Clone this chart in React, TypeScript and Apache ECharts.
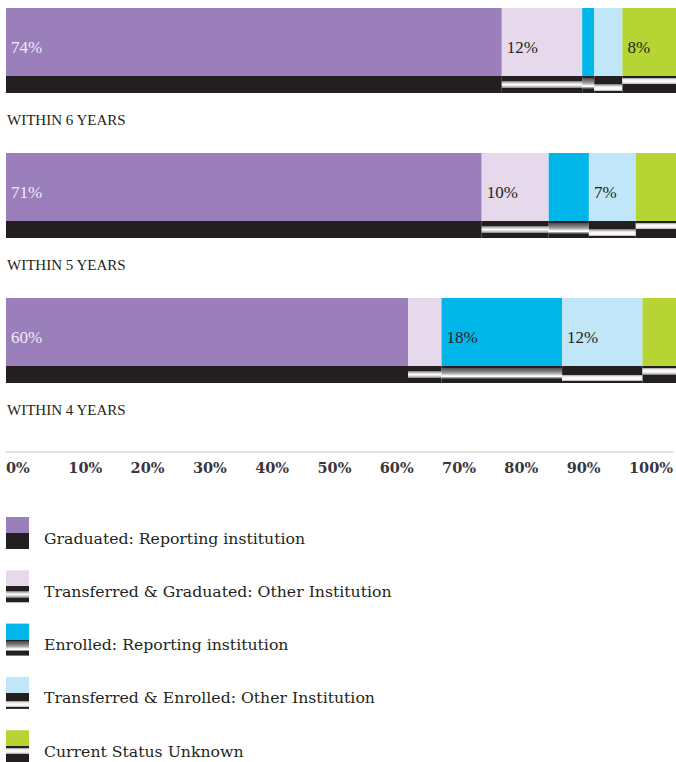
import React, { useEffect, useRef } from "react";
import * as echarts from "echarts";

const groups = ["WITHIN 6 YEARS", "WITHIN 5 YEARS", "WITHIN 4 YEARS"];
const seriesNames = [
  "Graduated: Reporting institution",
  "Transferred & Graduated: Other Institution",
  "Enrolled: Reporting institution",
  "Transferred & Enrolled: Other Institution",
  "Current Status Unknown",
];
const graduatedReporting = [74, 71, 60];
const transferredGraduated = [12, 10, 5];
const enrolledReporting = [1.8, 6, 18];
const transferredEnrolled = [4.2, 7, 12];
const statusUnknown = [8, 6, 5];
const axisTicks = [0, 10, 20, 30, 40, 50, 60, 70, 80, 90, 100];

const values = [graduatedReporting, transferredGraduated, enrolledReporting, transferredEnrolled, statusUnknown];
const colors = ["#9b7fba", "#e6d9ec", "#00b6e9", "#c1e6f7", "#b6d433"];
const labelColors = ["#f1ebf6", "#231f20", "#231f20", "#231f20", "#231f20"];

const D = "#231f20";
const stripPatterns: [number, string][][] = [
  [[0, D], [1, D]],
  [[0, D], [0.28, D], [0.28, "#6a6a6a"], [0.4, "#c8c8c8"], [0.5, "#ffffff"], [0.6, "#d0d0d0"], [0.72, "#777777"], [0.72, D], [1, D]],
  [[0, D], [0.1, D], [0.1, "#4a4a4a"], [0.3, "#7a7a7a"], [0.45, "#b0b0b0"], [0.55, "#f0f0f0"], [0.62, "#ffffff"], [0.68, "#9a9a9a"], [0.74, "#555555"], [0.74, D], [1, D]],
  [[0, D], [0.5, D], [0.5, "#8a8a8a"], [0.6, "#e0e0e0"], [0.7, "#ffffff"], [0.82, "#f0f0f0"], [0.9, "#8a8a8a"], [0.9, D], [1, D]],
  [[0, D], [0.1, D], [0.1, "#909090"], [0.2, "#e8e8e8"], [0.3, "#ffffff"], [0.42, "#e0e0e0"], [0.5, "#8a8a8a"], [0.5, D], [1, D]],
];

function vGrad(stops: [number, string][]) {
  return new echarts.graphic.LinearGradient(
    0, 0, 0, 1,
    stops.map(([offset, color]) => ({ offset, color }))
  );
}

function legendGrad(i: number) {
  const stops: [number, string][] = [[0, colors[i]], [0.5, colors[i]]];
  stripPatterns[i].forEach(([o, c]) => stops.push([0.5 + 0.5 * o, c]));
  return vGrad(stops);
}

export default function App() {
  const ref = useRef<HTMLDivElement>(null);
  useEffect(() => {
    if (!ref.current) return;
    const chart = echarts.init(ref.current, null, { renderer: "svg" });
    const serif = "'Liberation Serif', 'Times New Roman', serif";
    const topSeries = seriesNames.map((name, i) => ({
      name,
      type: "bar",
      stack: "top",
      barWidth: 68,
      barGap: 0,
      data: values[i],
      itemStyle: { color: colors[i] },
      label: {
        show: true,
        position: "insideLeft",
        distance: 5,
        offset: [0, 5],
        fontFamily: serif,
        fontSize: 17,
        color: labelColors[i],
        formatter: (p: any) => (p.value >= 7 ? `${Math.round(p.value)}%` : ""),
      },
    }));
    const stripSeries = seriesNames.map((name, i) => ({
      name,
      type: "bar",
      stack: "bottom",
      barWidth: 17,
      barGap: 0,
      data: values[i],
      itemStyle: { color: vGrad(stripPatterns[i]) },
      label: { show: false },
    }));
    const padSeries = {
      name: "pad",
      type: "bar",
      stack: "pad",
      barWidth: 44,
      barGap: 0,
      silent: true,
      data: groups.map(() => 100),
      itemStyle: { color: "rgba(0,0,0,0)" },
    };
    chart.setOption({
      animation: false,
      grid: [
        { left: 6, top: 0, width: 673, height: 435 },
        { left: 6, top: 452, width: 670, height: 0 },
      ],
      xAxis: [
        { type: "value", gridIndex: 0, min: 0, max: 100, show: false },
        {
          type: "value",
          gridIndex: 1,
          min: 0,
          max: 107,
          interval: 10,
          axisLine: { show: true, lineStyle: { color: "#e2e2e2", width: 2 } },
          axisTick: { show: false },
          splitLine: { show: false },
          axisLabel: {
            margin: 8,
            align: "left",
            fontFamily: "'DejaVu Serif', serif",
            fontWeight: "bold",
            fontSize: 14.5,
            color: "#3a3540",
            formatter: (v: number) => (axisTicks.includes(v) ? `${v}%` : ""),
          },
        },
      ],
      yAxis: [
        {
          type: "category",
          gridIndex: 0,
          inverse: true,
          data: groups,
          axisLine: { show: false },
          axisTick: { show: false },
          axisLabel: {
            inside: true,
            interval: 0,
            align: "left",
            verticalAlign: "top",
            margin: 1,
            padding: [40, 0, 0, 0],
            lineHeight: 15,
            fontFamily: serif,
            fontSize: 15,
            color: "#231f20",
          },
        },
        { type: "category", gridIndex: 1, show: false, data: [""] },
      ],
      legend: {
        orient: "vertical",
        left: 6,
        top: 517,
        padding: 0,
        height: 250,
        icon: "rect",
        itemWidth: 23,
        itemHeight: 32,
        itemGap: 21.3,
        selectedMode: false,
        formatter: (name: string) => `{t|${name}}`,
        textStyle: {
          fontFamily: "'DejaVu Serif', serif",
          fontSize: 15.7,
          color: "#231f20",
          rich: {
            t: {
              fontFamily: "'DejaVu Serif', serif",
              fontSize: 15.7,
              color: "#231f20",
              padding: [10, 0, 0, 10],
            },
          },
        },
        data: seriesNames.map((name, i) => ({ name, itemStyle: { color: legendGrad(i) } })),
      },
      series: [...topSeries, ...stripSeries, padSeries],
    });
    return () => chart.dispose();
  }, []);
  return (
    <div
      ref={ref}
      style={{ position: "absolute", left: 0, top: 0, width: 676, height: 762, background: "#fff" }}
    />
  );
}
